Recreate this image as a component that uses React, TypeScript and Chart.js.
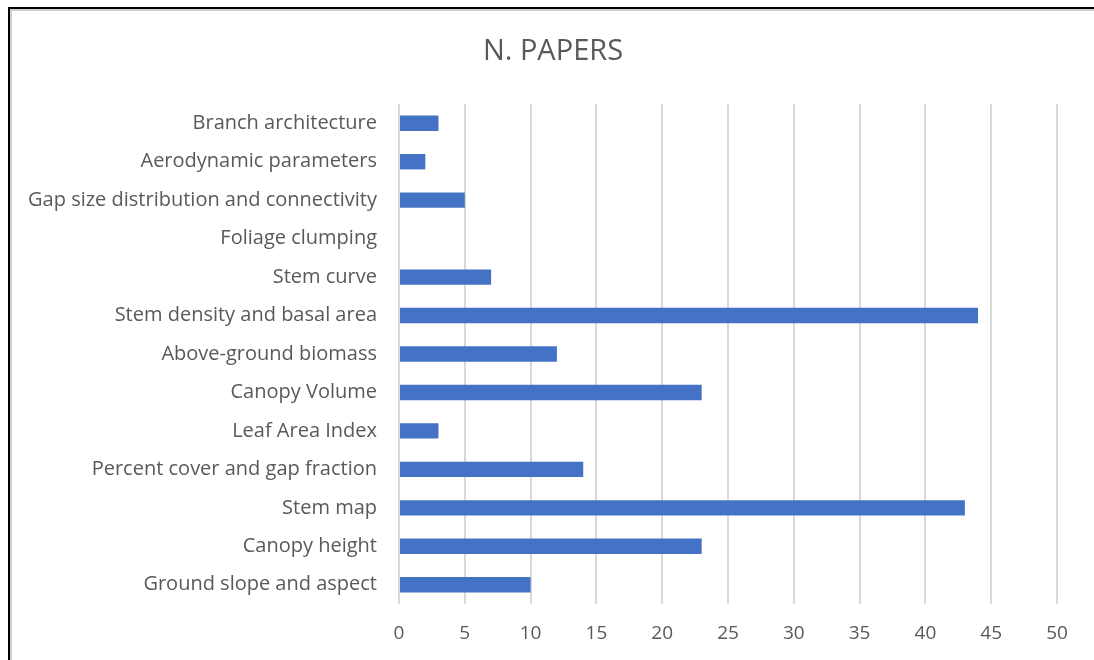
import React, { useEffect, useRef } from "react";
import { Chart, registerables } from "chart.js";

Chart.register(...registerables);

const categories = [
  "Branch architecture",
  "Aerodynamic parameters",
  "Gap size distribution and connectivity",
  "Foliage clumping",
  "Stem curve",
  "Stem density and basal area",
  "Above-ground biomass",
  "Canopy Volume",
  "Leaf Area Index",
  "Percent cover and gap fraction",
  "Stem map",
  "Canopy height",
  "Ground slope and aspect",
];
const papers = [3, 2, 5, 0, 7, 44, 12, 23, 3, 14, 43, 23, 10];
const chartTitle = "N. PAPERS";
const xMin = 0;
const xMax = 50;
const xStep = 5;

const FONT = "'Open Sans', 'Noto Sans', sans-serif";
const TEXT = "#595959";

const framePlugin = {
  id: "frame",
  beforeDraw(chart: any) {
    const ctx = chart.ctx;
    const w = chart.width;
    const h = chart.height;
    ctx.save();
    ctx.strokeStyle = "#d0d0d0";
    ctx.lineWidth = 2;
    ctx.beginPath();
    ctx.moveTo(11, h);
    ctx.lineTo(11, 10);
    ctx.lineTo(w, 10);
    ctx.stroke();
    ctx.strokeStyle = "#000000";
    ctx.lineWidth = 2;
    ctx.beginPath();
    ctx.moveTo(9, h);
    ctx.lineTo(9, 8);
    ctx.lineTo(w, 8);
    ctx.stroke();
    ctx.fillStyle = TEXT;
    ctx.font = `29px ${FONT}`;
    ctx.textAlign = "center";
    ctx.textBaseline = "middle";
    ctx.fillText(chartTitle, 553, 52);
    ctx.restore();
  },
};

export default function App() {
  const ref = useRef<HTMLCanvasElement | null>(null);
  useEffect(() => {
    document.body.style.margin = "0";
    const canvas = ref.current;
    if (!canvas) return;
    const chart = new Chart(canvas, {
      type: "bar",
      data: {
        labels: categories,
        datasets: [
          {
            label: chartTitle,
            data: papers,
            backgroundColor: "#4472C4",
            borderWidth: 0,
            barPercentage: 0.4,
            categoryPercentage: 1,
          },
        ],
      },
      options: {
        indexAxis: "y",
        animation: false,
        responsive: false,
        layout: { padding: { left: 0, right: 37, top: 104, bottom: 0 } },
        plugins: {
          legend: { display: false },
          tooltip: { enabled: false },
          title: { display: false },
        },
        scales: {
          x: {
            min: xMin,
            max: xMax,
            ticks: {
              stepSize: xStep,
              color: TEXT,
              font: { family: FONT, size: 19 },
              padding: 18,
            },
            grid: { color: "#d9d9d9", lineWidth: 2, drawTicks: false },
            border: { display: false },
            afterFit(scale: any) {
              scale.height = 56;
            },
          },
          y: {
            ticks: {
              color: TEXT,
              font: { family: FONT, size: 20 },
              padding: 22,
              autoSkip: false,
            },
            grid: { display: false, drawTicks: false },
            border: { display: false },
            afterFit(scale: any) {
              scale.width = 399;
            },
          },
        },
      },
      plugins: [framePlugin],
    });
    return () => chart.destroy();
  }, []);
  return <canvas ref={ref} width={1094} height={660} style={{ display: "block" }} />;
}
